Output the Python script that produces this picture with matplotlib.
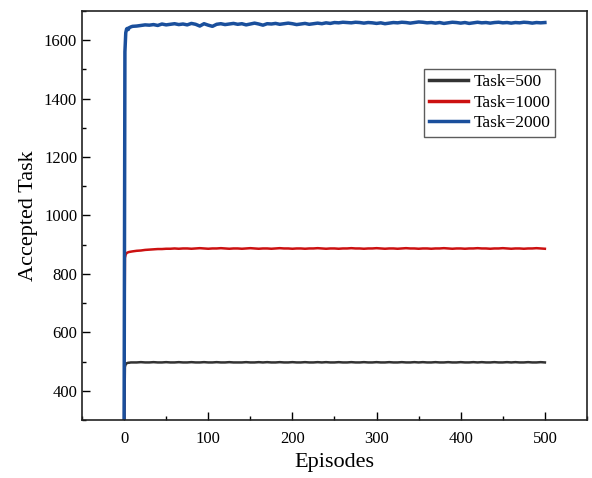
import matplotlib.pyplot as plt
from matplotlib.ticker import MultipleLocator

# episodes sampled from the curves (dense at the start, then every 5)
episodes = [0, 1, 2, 3, 4, 5, 6, 8, 10] + list(range(15, 501, 5))

task_500 = [250, 482, 491, 494, 495, 496, 496, 497, 497,
            497, 498, 497, 497, 498, 497, 497, 498, 497, 497,
            498, 497, 497, 498, 497, 497, 498, 497, 497, 498,
            497, 497, 498, 497, 497, 497, 498, 497, 497, 498,
            497, 498, 497, 497, 498, 497, 497, 498, 497, 497,
            498, 497, 497, 498, 497, 498, 497, 497, 498, 497,
            497, 498, 497, 497, 498, 497, 497, 498, 497, 497,
            498, 497, 497, 498, 497, 497, 498, 497, 498, 497,
            497, 498, 497, 497, 498, 497, 497, 498, 497, 497,
            498, 497, 498, 497, 497, 498, 497, 497, 498, 497,
            498, 497, 497, 498, 497, 497, 498, 497]

task_1000 = [250, 855, 867, 871, 873, 874, 875, 876, 877,
             879, 880, 882, 883, 884, 885, 885, 886, 886, 887,
             886, 887, 887, 886, 887, 888, 887, 886, 887, 887,
             888, 887, 886, 887, 887, 886, 887, 888, 887, 886,
             887, 887, 886, 887, 888, 887, 887, 886, 887, 887,
             886, 887, 887, 888, 887, 886, 887, 887, 886, 887,
             887, 888, 887, 887, 886, 887, 887, 888, 887, 886,
             887, 887, 886, 887, 888, 887, 887, 886, 887, 887,
             886, 887, 887, 888, 887, 886, 887, 887, 886, 887,
             887, 888, 887, 887, 886, 887, 887, 888, 887, 886,
             887, 887, 886, 887, 887, 888, 887, 886]

task_2000 = [250, 1560, 1625, 1638, 1640, 1636, 1642, 1645, 1647,
             1648, 1650, 1652, 1651, 1653, 1650, 1655, 1652, 1654, 1656,
             1653, 1655, 1652, 1657, 1654, 1648, 1656, 1651, 1647, 1654,
             1656, 1653, 1655, 1657, 1654, 1656, 1652, 1655, 1658, 1655,
             1651, 1656, 1655, 1657, 1654, 1656, 1658, 1656, 1653, 1655,
             1657, 1654, 1656, 1658, 1656, 1659, 1657, 1660, 1659, 1661,
             1660, 1659, 1661, 1660, 1658, 1660, 1659, 1657, 1659, 1656,
             1658, 1660, 1659, 1661, 1660, 1658, 1660, 1662, 1661, 1659,
             1660, 1658, 1660, 1657, 1659, 1661, 1660, 1658, 1660, 1657,
             1659, 1661, 1659, 1660, 1658, 1660, 1661, 1659, 1660, 1658,
             1660, 1659, 1661, 1660, 1658, 1660, 1659, 1660]

plt.rcParams['font.family'] = ['Liberation Serif', 'DejaVu Serif']

fig = plt.figure(figsize=(5.92, 4.78), dpi=100)
ax = fig.add_axes([0.1385, 0.1213, 0.853, 0.856])

ax.plot(episodes, task_500, color='#333333', lw=1.8, label='Task=500')
ax.plot(episodes, task_1000, color='#cc1111', lw=1.8, label='Task=1000')
ax.plot(episodes, task_2000, color='#1a4f9c', lw=2.5, label='Task=2000')

ax.set_xlim(-50, 550)
ax.set_ylim(300, 1700)
ax.xaxis.set_major_locator(MultipleLocator(100))
ax.xaxis.set_minor_locator(MultipleLocator(50))
ax.yaxis.set_major_locator(MultipleLocator(200))
ax.yaxis.set_minor_locator(MultipleLocator(100))
ax.tick_params(which='both', direction='in', labelsize=12,
               top=False, right=False, labeltop=False, labelright=False)
ax.tick_params(which='major', length=6, width=1)
ax.tick_params(which='minor', length=3, width=1)
ax.tick_params(axis='x', pad=8)
for s in ax.spines.values():
    s.set_linewidth(1.2)
    s.set_color('#222222')

ax.set_xlabel('Episodes', fontsize=16)
ax.set_ylabel('Accepted Task', fontsize=16)

leg = ax.legend(loc='upper left', bbox_to_anchor=(0.677, 0.858), borderaxespad=0,
                fontsize=12.5, frameon=True, fancybox=False, handlelength=2.25,
                borderpad=0.3, labelspacing=0.25, handletextpad=0.3)
leg.get_frame().set_edgecolor('#333333')
leg.get_frame().set_linewidth(1.0)
for line in leg.get_lines():
    line.set_linewidth(2.5)

fig.savefig('out.png', dpi=100)
